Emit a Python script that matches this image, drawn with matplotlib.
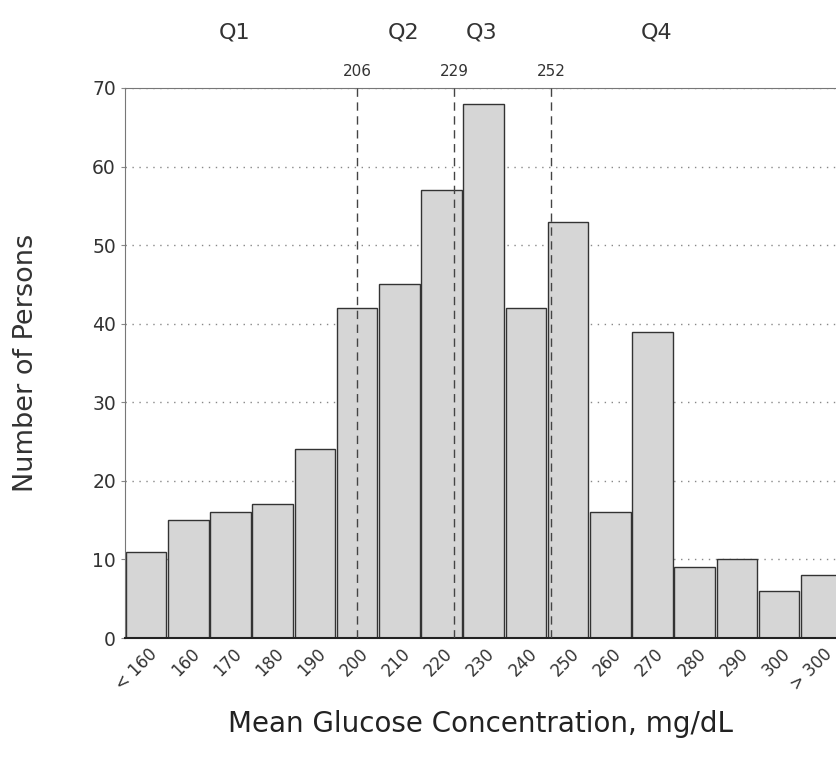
import numpy as np
import matplotlib.pyplot as plt

plt.rcParams['font.family'] = ['DejaVu Sans']

# bins of mean glucose (mg/dL) and counts
bins = ["< 160", "160", "170", "180", "190", "200", "210", "220", "230",
        "240", "250", "260", "270", "280", "290", "300", "> 300"]
counts = [11, 15, 16, 17, 24, 42, 45, 57, 68, 42, 53, 16, 39, 9, 10, 6, 8]

# quartile cut points and labels
cuts = [206, 229, 252]
quartiles = ["Q1", "Q2", "Q3", "Q4"]
quartile_x = [2.1, 6.1, 7.95, 12.1]


def glucose_to_pos(v):
    # bin "200" is index 5 and covers 200-210
    return (v - 200) / 10.0 + 4.5 - 0.1


fig = plt.figure(figsize=(8.36, 7.63), dpi=100)
ax = fig.add_axes([0.1495, 0.1638, 0.8505, 0.7209])

x = np.arange(len(bins))
ax.bar(x, counts, width=0.96, color="#d6d6d6", edgecolor="#333333",
       linewidth=1.0, zorder=2)

ax.set_xlim(-0.5, 16.35)
ax.set_ylim(0, 70)
ax.set_yticks(range(0, 80, 10))
ax.yaxis.grid(True, linestyle=(0, (1, 4)), color="#888888", linewidth=1.0, zorder=0)
ax.set_axisbelow(True)

for c in cuts:
    xp = glucose_to_pos(c)
    ax.axvline(xp, color="#444444", linestyle=(0, (6, 4)), linewidth=1.0, zorder=3)
    ax.text(xp, 71.2, str(c), ha="center", va="bottom", fontsize=11, color="#333333")

for q, qx in zip(quartiles, quartile_x):
    ax.text(qx, 75.8, q, ha="center", va="bottom", fontsize=16, color="#333333")

ax.set_xticks(x + 0.05)
ax.set_xticklabels(bins, rotation=45, ha="right", rotation_mode="anchor",
                   fontsize=12, color="#333333")
ax.tick_params(axis="x", length=0, pad=5)
ax.tick_params(axis="y", length=3, labelsize=13.5, labelcolor="#333333", color="#888888")

for s in ["top", "left", "bottom"]:
    ax.spines[s].set_color("#777777")
ax.spines["bottom"].set_color("#222222")
ax.spines["bottom"].set_linewidth(1.5)
ax.spines["right"].set_visible(False)

ax.set_xlabel("Mean Glucose Concentration, mg/dL", fontsize=20, color="#222222", labelpad=12)
ax.set_ylabel("Number of Persons", fontsize=19.5, color="#333333", labelpad=38)

fig.savefig("out.png", dpi=100)
